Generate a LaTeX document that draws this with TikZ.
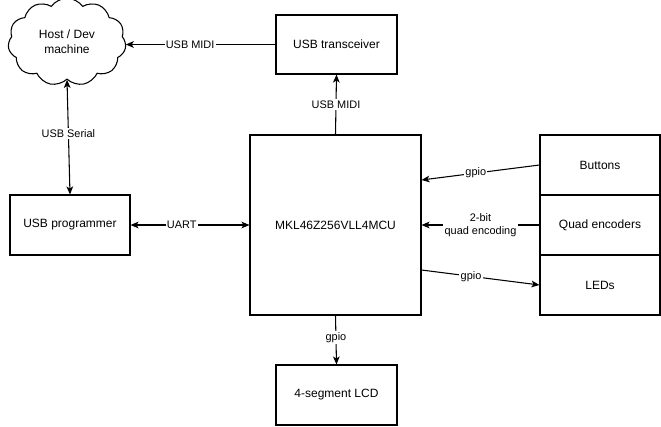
\documentclass[tikz,border=0pt]{standalone}
\usepackage{fontspec}
\setmainfont{Liberation Sans}
\usetikzlibrary{shapes.symbols,arrows.meta}
\begin{document}
\begin{tikzpicture}[x=0.75pt,y=-0.75pt,
  box/.style={draw,line width=0.8pt,inner sep=0pt,font=\fontsize{9}{11}\selectfont},
  conn/.style={line width=0.8pt,-{Stealth[length=6pt,width=5pt,inset=1.5pt]}},
  biconn/.style={line width=0.8pt,{Stealth[length=6pt,width=5pt,inset=1.5pt]}-{Stealth[length=6pt,width=5pt,inset=1.5pt]}},
  lbl/.style={fill=white,inner sep=1pt,font=\fontsize{8.2}{10}\selectfont,align=center}]
\useasboundingbox (0,0) rectangle (661,426);
% nodes
\node[box,cloud,cloud puffs=11,cloud puff arc=110,minimum width=118*0.75pt,minimum height=72*0.75pt,align=center] (host) at (67,42) {Host / Dev\\machine};
\node[box,minimum width=121*0.75pt,minimum height=59*0.75pt] (xcvr) at (336.5,44.5) {USB transceiver};
\node[box,minimum width=171*0.75pt,minimum height=180*0.75pt] (mcu) at (335.5,225) {MKL46Z256VLL4MCU};
\node[box,minimum width=120*0.75pt,minimum height=60*0.75pt] (prog) at (70,225) {USB programmer};
\node[box,minimum width=120*0.75pt,minimum height=60*0.75pt] (btn) at (600,165) {Buttons};
\node[box,minimum width=120*0.75pt,minimum height=60*0.75pt] (quad) at (600,225) {Quad encoders};
\node[box,minimum width=120*0.75pt,minimum height=60*0.75pt] (leds) at (600,285) {LEDs};
\node[box,minimum width=121*0.75pt,minimum height=60*0.75pt] (lcd) at (336.5,395) {4-segment LCD};
% coordinates on MCU border
\coordinate (mbtn) at (mcu.east |- 0,180);
\coordinate (mled) at (mcu.east |- 0,270);
% connectors
\draw[conn] (xcvr.west) -- node[lbl,pos=0.57]{USB MIDI} (host.east |- xcvr.west);
\draw[conn] (mcu.north) -- node[lbl,pos=0.5]{USB MIDI} (xcvr.south);
\draw[biconn] (host.south) -- node[lbl,pos=0.47]{USB Serial} (prog.north);
\draw[biconn] (prog.east) -- node[lbl,pos=0.43]{UART} (mcu.west);
\draw[conn] (btn.west) -- node[lbl,pos=0.54]{gpio} (mbtn);
\draw[conn] (quad.west) -- node[lbl,pos=0.5]{2-bit\\quad encoding} (mcu.east |- quad.west);
\draw[conn] (mled) -- node[lbl,pos=0.42]{gpio} (leds.west);
\draw[conn] (mcu.south) -- node[lbl,pos=0.45]{gpio} (lcd.north);
\end{tikzpicture}
\end{document}
